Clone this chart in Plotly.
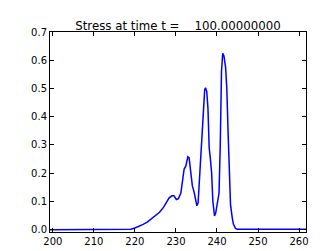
import plotly.graph_objects as go

x_vals = [199.3, 205.0, 210.0, 215.0, 218.0, 219.0, 220.0, 221.0, 222.0, 223.0, 224.0, 225.0, 226.0, 227.0,
          227.8, 228.3, 229.0, 229.5, 230.1, 230.6, 231.2, 231.6, 232.0, 232.4, 232.9, 233.2, 233.6,
          234.0, 234.4, 234.8, 235.1, 235.4, 235.8, 236.1, 236.4, 236.7, 237.0, 237.2, 237.5, 237.8,
          238.1, 238.4, 238.7, 239.0, 239.4, 239.7, 240.1, 240.5, 240.8, 241.1, 241.4, 241.7, 242.1,
          242.4, 242.7, 243.0, 243.3, 243.7, 244.0, 244.5, 245.0, 250.0, 255.0, 261.7]
stress_vals = [0.0, 0.0, 0.0, 0.0005, 0.001, 0.002, 0.006, 0.012, 0.019, 0.027, 0.038, 0.05, 0.062, 0.08,
               0.1, 0.112, 0.12, 0.12, 0.107, 0.11, 0.13, 0.175, 0.215, 0.225, 0.258, 0.255, 0.2,
               0.155, 0.135, 0.1, 0.085, 0.095, 0.2, 0.255, 0.33, 0.43, 0.495, 0.503, 0.49, 0.43,
               0.29, 0.25, 0.2, 0.1, 0.049, 0.06, 0.1, 0.13, 0.3, 0.56, 0.625, 0.615, 0.575,
               0.5, 0.35, 0.17, 0.09, 0.045, 0.02, 0.005, 0.002, 0.002, 0.002, 0.002]

title_text = "Stress at time t =    100.00000000"

fig = go.Figure()
fig.add_trace(go.Scatter(x=x_vals, y=stress_vals, mode="lines",
                         line=dict(color="#0000ff", width=1.5)))

axis_common = dict(showgrid=False, zeroline=False, showline=True, linecolor="black", linewidth=1,
                   mirror="allticks", ticks="inside", ticklen=4, tickcolor="black", tickwidth=1,
                   tickfont=dict(family="DejaVu Sans", size=10, color="black"))

fig.update_layout(
    width=332, height=251,
    margin=dict(l=42, r=34, t=24, b=27),
    paper_bgcolor="white", plot_bgcolor="white",
    showlegend=False,
    title=dict(text=title_text, x=0.5, xref="paper", xanchor="center", y=1 - 17.5 / 251, yanchor="middle",
               yref="container", font=dict(family="DejaVu Sans", size=11.8, color="black")),
    xaxis=dict(range=[199.3, 261.7], tick0=200, dtick=10, **axis_common),
    yaxis=dict(range=[-0.008, 0.7], tick0=0, dtick=0.1, tickformat=".1f", **axis_common),
)

fig.write_html("out.html")
